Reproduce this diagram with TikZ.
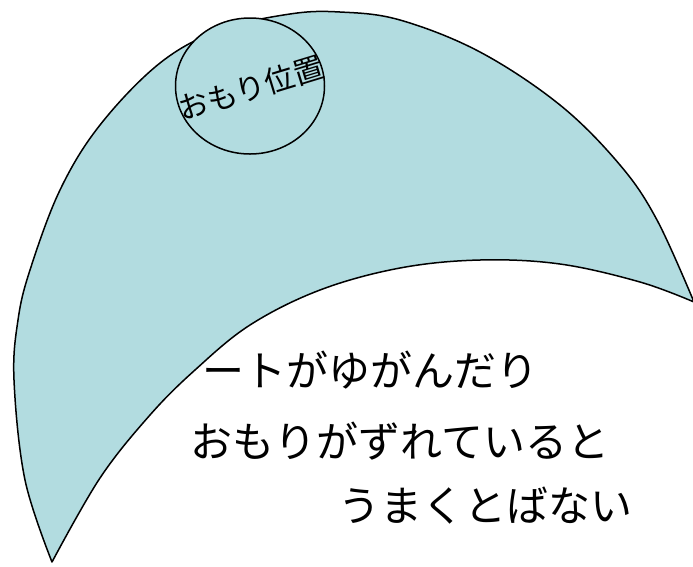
\documentclass[tikz,border=0pt]{standalone}
\usepackage{fontspec}
\usepackage{tikz}
\usetikzlibrary{shapes.geometric}
\newfontfamily\jpfont{Noto Sans CJK JP}
\definecolor{boardblue}{RGB}{178,220,224}

\begin{document}
\begin{tikzpicture}[x=1pt, y=-1pt, every node/.style={inner sep=0pt, outer sep=0pt},
    outline/.style={draw=black, line width=1.5pt, line join=round},
    caption/.style={font=\jpfont\fontsize{42}{50}\selectfont}]
    \useasboundingbox (0,0) rectangle (693,566);
    % board
    \filldraw[outline, fill=boardblue]
        plot[smooth, tension=0.6] coordinates {(52,562) (25,480) (14,380) (18,320) (30,270) (60,190)
            (100,125) (160,63) (220,30) (290,14) (340,12) (400,20) (480,52) (560,105) (620,165)
            (657,220) (694,302)}
        -- plot[smooth, tension=0.6] coordinates {(694,302) (640,282) (560,264) (480,260) (400,268)
            (320,290) (250,325) (195,370) (150,415) (100,478) (52,562)}
        -- cycle;
    \node[ellipse, outline, fill=boardblue, minimum width=149pt, minimum height=136pt] (weight) at (250,86) {};
    \node[font=\jpfont\fontsize{30}{36}\selectfont, rotate=17] (weightlabel) at (251,88) {おもり位置};

    \node[caption] (line1) at (370,370) {ートがゆがんだり};
    \node[caption] (line2) at (400,441) {おもりがずれていると};
    \node[caption] (line3) at (485,506) {うまくとばない};
\end{tikzpicture}
\end{document}
